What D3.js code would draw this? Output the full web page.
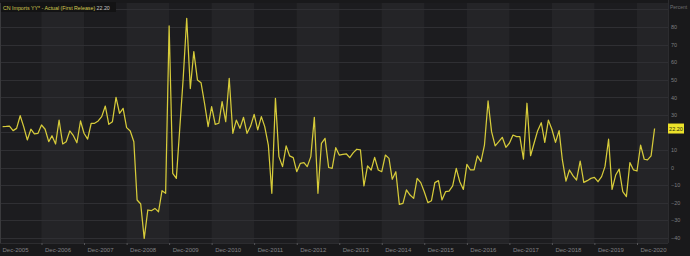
<!DOCTYPE html>
<html>
<head>
<meta charset="utf-8">
<script src="https://cdn.jsdelivr.net/npm/d3@7"></script>
<style>
  html, body { margin: 0; padding: 0; background: #19191b; }
  svg { display: block; font-family: "Liberation Sans", Arial, sans-serif; }
</style>
</head>
<body>
<div id="chart"></div>
<script>
// CN Imports YY* - Actual (First Release), monthly, percent
const startMonth = new Date(2006, 0, 1);
const importsYY = [
    23.3, 23.4, 23.6, 21.0, 22.3, 29.5, 23.3, 15.7, 21.8, 19.1,
    19.5, 24.2, 21.8, 14.7, 18.1, 13.4, 27.0, 13.4, 14.7, 20.8,
    18.1, 14.1, 26.5, 19.5, 16.2, 25.2, 25.2, 26.5, 29.0, 35.0,
    24.6, 26.1, 40.0, 30.9, 33.7, 22.7, 20.8, 14.7, -18.5, -20.8,
    -40.4, -24.2, -24.6, -23.3, -25.2, -13.2, -14.7, 80.6, -3.3, -6.2,
    21.0, 51.0, 85.0, 45.0, 66.0, 49.9, 48.3, 36.6, 23.3, 34.7,
    24.6,
    25.2, 37.5, 26.1, 50.8, 19.5, 27.0, 22.3, 28.6, 19.5, 23.6,
    30.3, 21.4, 29.0, 23.3, 12.8, -14.7, 39.4, 6.2, 0.5, 12.3,
    6.6, 5.6, -2.4, 2.4, 2.8, 0.5, 6.2, 28.6, -14.7, 13.8,
    16.6, 0.0, -0.5, 11.3, 7.1, 7.5, 7.7, 5.6, 8.5, 10.4,
    10.0, -10.5, 0.9, -1.4, 5.8, -1.4, -2.4, 7.1, 5.2, -6.7,
    -2.4, -21.0, -20.4, -12.8, -15.7, -17.6, -6.2, -8.6, -13.8, -20.0,
    -18.9, -8.6, -7.5,
    -18.5, -13.8, -13.4, -10.5, -0.5, -8.1, -12.5, 1.8, -1.4, -1.4,
    6.6, 3.3, 12.8, 37.9, 20.4, 12.3, 14.7, 17.2, 11.5, 13.8,
    18.5, 17.6, 17.6, 4.8, 36.6, 6.7, 13.8, 21.0, 25.5, 14.3,
    27.0, 21.8, 14.3, 21.0, 4.3, -7.7, -1.4, -4.8, -7.1, 3.7,
    -8.5, -7.5, -6.2, -5.6, -8.1, -5.2, 0.5, 16.1, -12.5, -4.3,
    -0.9, -13.8, -16.6, 2.8, -1.4, -2.0, 12.8, 4.7, 4.3, 6.6,
    22.2
];
const tickYears = d3.range(2005, 2021);
const yTicks = d3.range(-40, 81, 10);
const gridTicks = d3.range(-40, 91, 10);
const seriesName = "CN Imports YY* - Actual (First Release)";
const lastLabel = "22.20";

const width = 690;
const height = 256;
const plot = { left: 0, right: 668, top: 3, bottom: 243 };

const data = importsYY.map((v, i) => ({
    date: d3.timeMonth.offset(startMonth, i),
    value: v
}));
const last = data[data.length - 1];

const svg = d3.select("#chart").append("svg")
    .attr("width", width)
    .attr("height", height);

// Scales
const xScale = d3.scaleTime()
    .domain([new Date(2005, 11, 1), new Date(2020, 11, 1)])
    .range([-1, 637]);

const yScale = d3.scaleLinear()
    .domain([-43, 93.7])
    .range([plot.bottom, plot.top]);

const tickDates = tickYears.map(y => new Date(y, 11, 1));

// Plot background + alternating year bands
svg.append("rect")
    .attr("x", plot.left).attr("y", plot.top)
    .attr("width", plot.right - plot.left).attr("height", plot.bottom - plot.top)
    .attr("fill", "#1c1c1f");

tickDates.forEach((d, i) => {
    if (i % 2 === 0) return;
    const x0 = Math.max(plot.left, xScale(d));
    const next = i + 1 < tickDates.length ? xScale(tickDates[i + 1]) : plot.right;
    svg.append("rect")
        .attr("x", x0).attr("y", plot.top)
        .attr("width", Math.min(plot.right, next) - x0)
        .attr("height", plot.bottom - plot.top)
        .attr("fill", "#242427");
});

// Horizontal grid lines
svg.append("g")
    .selectAll("line")
    .data(gridTicks)
    .join("line")
    .attr("x1", plot.left).attr("x2", plot.right)
    .attr("y1", d => Math.round(yScale(d)) + 0.5)
    .attr("y2", d => Math.round(yScale(d)) + 0.5)
    .attr("stroke", "#2f2f33")
    .attr("stroke-width", 1);

// Frame
svg.append("line")
    .attr("x1", 0.5).attr("x2", 0.5).attr("y1", plot.top).attr("y2", plot.bottom)
    .attr("stroke", "#3a3a3d");
svg.append("line")
    .attr("x1", plot.right + 0.5).attr("x2", plot.right + 0.5).attr("y1", 0).attr("y2", plot.bottom)
    .attr("stroke", "#2c2c2f");
svg.append("line")
    .attr("x1", 0).attr("x2", plot.right).attr("y1", plot.bottom + 0.5).attr("y2", plot.bottom + 0.5)
    .attr("stroke", "#2c2c2f");

// Line
const line = d3.line()
    .x(d => xScale(d.date))
    .y(d => yScale(d.value));

svg.append("path")
    .datum(data)
    .attr("d", line)
    .attr("fill", "none")
    .attr("stroke", "#d6cb3a")
    .attr("stroke-width", 1.25)
    .attr("stroke-linejoin", "round");

// Right axis (the label hidden under the last-value tag is skipped)
const tagY = yScale(last.value);
const yAxis = svg.append("g")
    .attr("transform", `translate(${plot.right}, 0)`)
    .call(d3.axisRight(yScale)
        .tickValues(yTicks.filter(t => Math.abs(yScale(t) - tagY) > 7))
        .tickSize(0).tickPadding(3));
yAxis.select(".domain").remove();
yAxis.selectAll("text")
    .attr("fill", "#7d7d80")
    .style("font-size", "5.5px");

svg.append("text")
    .attr("x", plot.right + 2)
    .attr("y", 9)
    .attr("fill", "#6f6f72")
    .style("font-size", "5px")
    .text("Percent");

// Bottom axis
const xAxis = svg.append("g")
    .attr("transform", `translate(0, ${plot.bottom})`)
    .call(d3.axisBottom(xScale).tickValues(tickDates).tickSize(2)
        .tickFormat(d3.timeFormat("%b-%Y")));
xAxis.select(".domain").remove();
xAxis.selectAll("line").attr("stroke", "#555558");
xAxis.selectAll("text")
    .attr("text-anchor", "start")
    .attr("x", 3)
    .attr("y", 5)
    .attr("fill", "#808083")
    .style("font-size", "6px");

// Last value tag
const tag = svg.append("g")
    .attr("transform", `translate(${plot.right}, ${tagY})`);
tag.append("rect")
    .attr("x", 0).attr("y", -5)
    .attr("width", 16).attr("height", 10)
    .attr("fill", "#ece22a");
tag.append("text")
    .attr("x", 8).attr("y", 2)
    .attr("text-anchor", "middle")
    .attr("fill", "#2a2a10")
    .style("font-size", "5.5px")
    .text(lastLabel);

// Title box: one text, squeezed horizontally to fit the box
svg.append("rect")
    .attr("x", 1).attr("y", 2)
    .attr("width", 115).attr("height", 10)
    .attr("fill", "#131314");
const title = svg.append("text")
    .style("font-size", "6px");
title.append("tspan")
    .attr("fill", "#d6cc52")
    .text(seriesName + " ");
title.append("tspan")
    .attr("fill", "#c8c8c8")
    .text(lastLabel);
const titleW = title.node().getComputedTextLength();
title.attr("transform", `translate(3, 9.5) scale(${107 / titleW}, 1)`);
</script>
</body>
</html>
